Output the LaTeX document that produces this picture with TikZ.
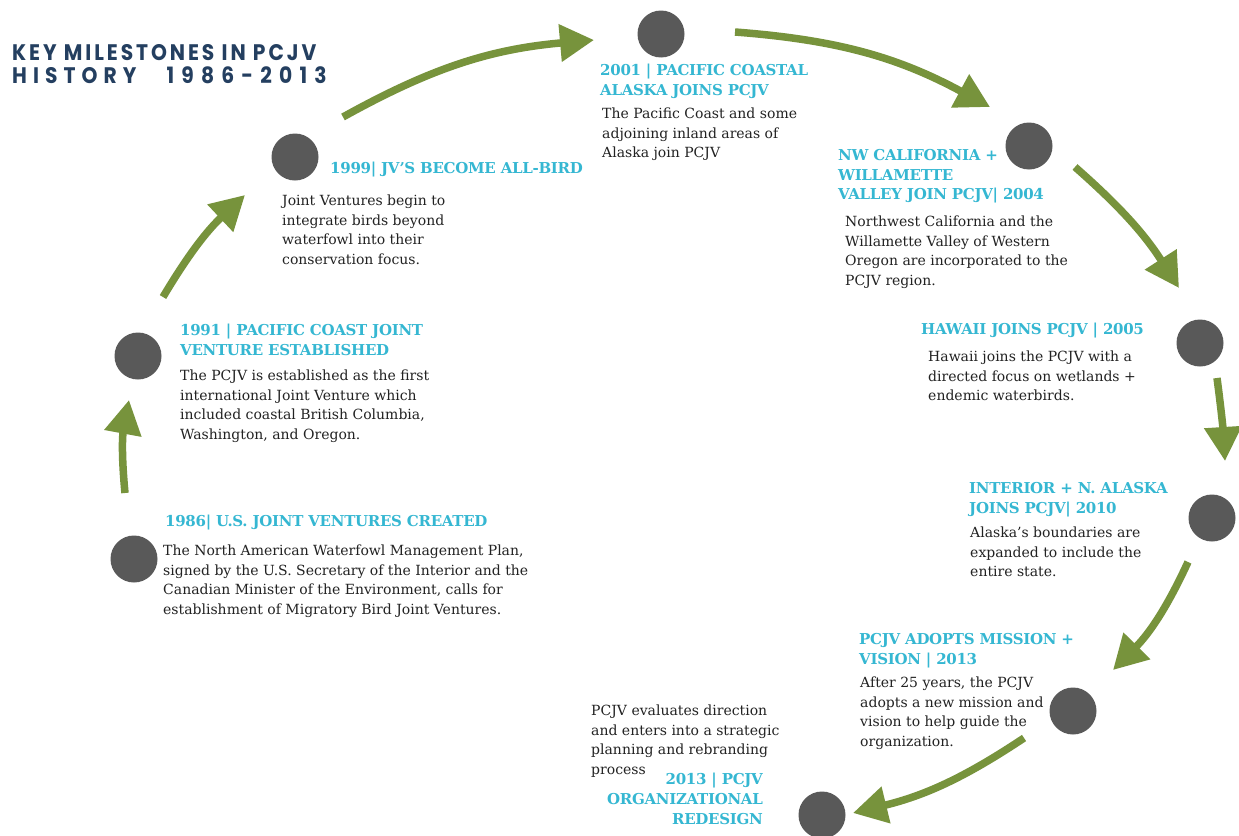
\documentclass[tikz,border=0pt]{standalone}
\usepackage{fontspec}
\setmainfont{DejaVu Serif}
\newfontfamily\titlefnt[LetterSpace=13,FakeStretch=0.9]{Poppins}
\newfontfamily\titlefntw[LetterSpace=27,FakeStretch=0.9]{Poppins}
\usetikzlibrary{arrows.meta}
\definecolor{arrowgreen}{HTML}{77933C}
\definecolor{dotgray}{HTML}{595959}
\definecolor{headcyan}{HTML}{35B7D2}
\definecolor{titleblue}{HTML}{243F60}
\definecolor{bodyblack}{HTML}{222222}
\newcommand\mybody{\fontsize{14}{19.5}\selectfont}
\newcommand\myhead{\fontsize{15}{19.8}\selectfont\bfseries\addfontfeatures{LetterSpace=-2}}
\begin{document}
\begin{tikzpicture}[x=1pt,y=-1pt,
  dot/.style={circle, fill=dotgray, minimum size=47pt, inner sep=0pt},
  head/.style={text=headcyan, font=\myhead, anchor=north west, inner sep=0pt, align=left},
  body/.style={text=bodyblack, font=\mybody, anchor=north west, inner sep=0pt, align=left},
  flow/.style={draw=arrowgreen, line width=7.5pt, -{Triangle[length=34pt,width=36pt]}},
  ttl/.style={text=titleblue, anchor=base west, inner sep=0pt}]
\fill[white] (0,0) rectangle (1239,835);
\useasboundingbox (0,0) rectangle (1239,835);

% title
\node[ttl, font=\titlefnt\bfseries\fontsize{22.5}{26}\selectfont] (t1) at (12,60) {KEY MILESTONES IN PCJV};
\node[ttl, font=\titlefntw\bfseries\fontsize{22.5}{26}\selectfont] (t2) at (12,83.5) {HISTORY\hspace{30pt}{\addfontfeatures{LetterSpace=32}1986-2013}};

% dots
\node[dot] (d1986) at (134,559) {};
\node[dot] (d1991) at (138,356) {};
\node[dot] (d1999) at (295,157) {};
\node[dot] (d2001) at (661,34) {};
\node[dot] (d2004) at (1029,146) {};
\node[dot] (d2005) at (1200,343) {};
\node[dot] (d2010) at (1212,518) {};
\node[dot] (d2013a) at (1073,711) {};
\node[dot] (d2013b) at (822,815) {};

% texts
\node[head] (h1986) at (165,515) {1986| U.S. JOINT VENTURES CREATED};
\node[body] (b1986) at (163,545) {The North American Waterfowl Management Plan,\\signed by the U.S. Secretary of the Interior and the\\Canadian Minister of the Environment, calls for\\establishment of Migratory Bird Joint Ventures.};

\node[head] (h1991) at (180,324) {1991 | PACIFIC COAST JOINT\\VENTURE ESTABLISHED};
\node[body] (b1991) at (180,370) {The PCJV is established as the first\\international Joint Venture which\\included coastal British Columbia,\\Washington, and Oregon.};

\node[head] (h1999) at (330,162) {1999| JV’S BECOME ALL-BIRD};
\node[body] (b1999) at (282,195) {Joint Ventures begin to\\integrate birds beyond\\waterfowl into their\\conservation focus.};

\node[head] (h2001) at (600,64) {2001 | PACIFIC COASTAL\\ALASKA JOINS PCJV};
\node[body] (b2001) at (602,108) {The Pacific Coast and some\\adjoining inland areas of\\Alaska join PCJV};

\node[head] (h2004) at (838,149) {NW CALIFORNIA +\\WILLAMETTE\\VALLEY JOIN PCJV| 2004};
\node[body] (b2004) at (845,216) {Northwest California and the\\Willamette Valley of Western\\Oregon are incorporated to the\\PCJV region.};

\node[head] (h2005) at (921,323) {HAWAII JOINS PCJV | 2005};
\node[body] (b2005) at (928,351) {Hawaii joins the PCJV with a\\directed focus on wetlands +\\endemic waterbirds.};

\node[head] (h2010) at (969,482) {INTERIOR + N. ALASKA\\JOINS PCJV| 2010};
\node[body] (b2010) at (970,527) {Alaska’s boundaries are\\expanded to include the\\entire state.};

\node[head] (h2013a) at (859,633) {PCJV ADOPTS MISSION +\\VISION | 2013};
\node[body] (b2013a) at (860,677) {After 25 years, the PCJV\\adopts a new mission and\\vision to help guide the\\organization.};

\node[body] (b2013b) at (591,705) {PCJV evaluates direction\\and enters into a strategic\\planning and rebranding\\process};
\node[head, anchor=north east, align=right] (h2013b) at (763,773) {2013 | PCJV\\ORGANIZATIONAL\\REDESIGN};

% arrow end points
\coordinate (a1s) at (125,493);
\coordinate (a1e) at (129,400);
\coordinate (a2s) at (163,297);
\coordinate (a2e) at (245,195);
\coordinate (a3s) at (343,117);
\coordinate (a3e) at (594,40);
\coordinate (a4s) at (735,32);
\coordinate (a4e) at (990,107);
\coordinate (a5s) at (1075,167);
\coordinate (a5e) at (1179,288);
\coordinate (a6s) at (1217,378);
\coordinate (a6e) at (1225,461);
\coordinate (a7s) at (1188,562);
\coordinate (a7e) at (1113,670);
\coordinate (a8s) at (1024,738);
\coordinate (a8e) at (853,813);

\draw[flow] (a1s) to[bend left=8] (a1e);
\draw[flow] (a2s) to[bend left=8] (a2e);
\draw[flow] (a3s) to[bend left=12] (a3e);
\draw[flow] (a4s) to[bend left=12] (a4e);
\draw[flow] (a5s) to[bend left=8] (a5e);
\draw[flow] (a6s) to[bend left=2] (a6e);
\draw[flow] (a7s) to[bend left=10] (a7e);
\draw[flow] (a8s) to[bend left=10] (a8e);
\end{tikzpicture}
\end{document}
